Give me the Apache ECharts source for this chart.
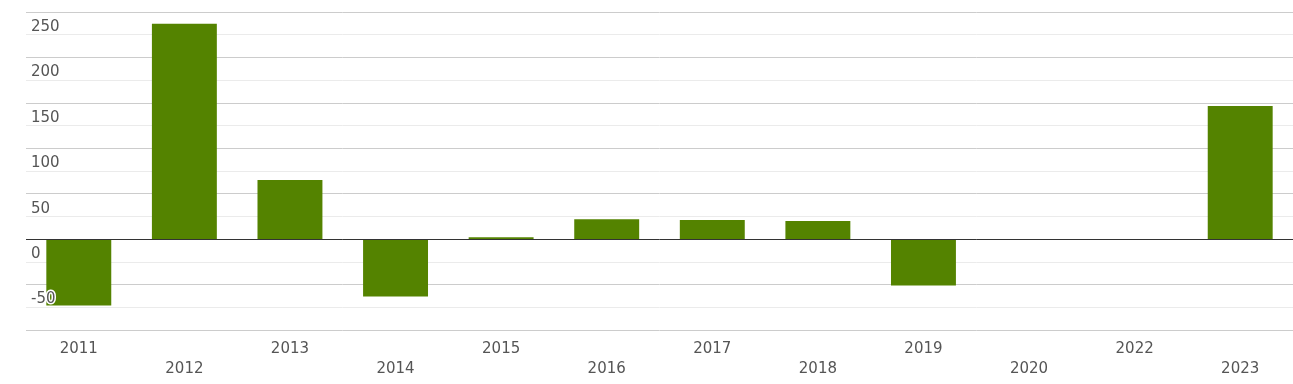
<!DOCTYPE html>
<html>
<head>
<meta charset="utf-8">
<script src="https://cdn.jsdelivr.net/npm/echarts@6/dist/echarts.min.js"></script>
<style>html,body{margin:0;padding:0;background:#fff}#c{width:1293px;height:384px}</style>
</head>
<body>
<div id="c"></div>
<script>
const categories = ['2011','2012','2013','2014','2015','2016','2017','2018','2019','2020','2022','2023'];
const values = [-73, 237, 65, -63, 2, 22, 21, 20, -51, 0, 0, 146.5];
const yMin = -100, yMax = 250, yStep = 50;

const chart = echarts.init(document.getElementById('c'), null, {renderer: 'canvas'});
chart.setOption({
  animation: false,
  grid: {left: 26, right: 0, top: 12, bottom: 54, containLabel: false},
  xAxis: {
    type: 'category',
    data: categories,
    axisLine: {show: false, onZero: false},
    axisTick: {show: false},
    splitLine: {show: false},
    axisLabel: {
      interval: 0,
      margin: 9,
      color: '#555',
      fontFamily: 'DejaVu Sans',
      fontSize: 15,
      lineHeight: 20,
      verticalAlign: 'top',
      formatter: (v, i) => (i % 2 ? '\n' + v : v)
    }
  },
  yAxis: [{
    type: 'value',
    min: yMin, max: yMax, interval: yStep,
    z: 0,
    axisLine: {show: false},
    axisTick: {show: false},
    axisLabel: {show: false},
    splitLine: {show: true, lineStyle: {color: '#ccc', width: 1}},
    minorTick: {show: false, splitNumber: 2},
    minorSplitLine: {show: true, lineStyle: {color: '#ebebeb', width: 1}}
  }, {
    type: 'value',
    position: 'left',
    min: yMin, max: yMax, interval: yStep,
    z: 10,
    axisLine: {show: false},
    axisTick: {show: false},
    splitLine: {show: false},
    axisLabel: {
      inside: true,
      margin: 5,
      color: '#555',
      fontFamily: 'DejaVu Sans',
      fontSize: 15,
      verticalAlign: 'top',
      lineHeight: 30,
      textBorderColor: '#fff',
      textBorderWidth: 3,
      formatter: v => (v === yMin ? '' : String(v))
    }
  }],
  series: [{
    type: 'bar',
    yAxisIndex: 0,
    data: values,
    barCategoryGap: '38.5%',
    itemStyle: {color: '#548300'},
    markLine: {
      silent: true,
      symbol: 'none',
      label: {show: false},
      lineStyle: {color: '#333', width: 1, type: 'solid'},
      data: [{yAxis: 0}]
    }
  }]
});
</script>
</body>
</html>
